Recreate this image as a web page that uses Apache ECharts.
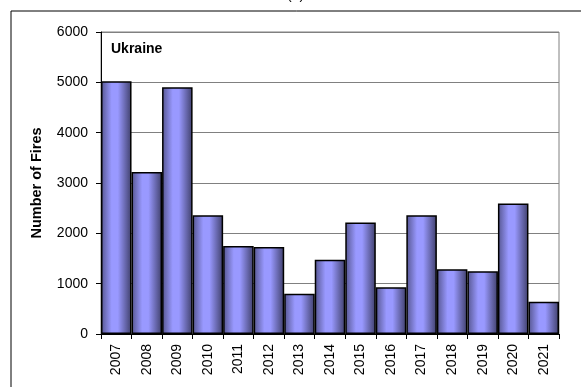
<!DOCTYPE html>
<html><head><meta charset="utf-8">
<script src="https://cdn.jsdelivr.net/npm/echarts@6/dist/echarts.min.js"></script>
<style>html,body{margin:0;padding:0;background:#fff;}#c{width:581px;height:387px;}</style>
</head><body><div id="c"></div>
<script>
const years = ['2007','2008','2009','2010','2011','2012','2013','2014','2015','2016','2017','2018','2019','2020','2021'];
const fires = [5020, 3220, 4900, 2360, 1750, 1730, 800, 1475, 2215, 930, 2360, 1285, 1245, 2595, 640];
const yTicks = [0, 1000, 2000, 3000, 4000, 5000, 6000];

const chart = echarts.init(document.getElementById('c'), null, {renderer: 'canvas'});
const font = 'Liberation Sans, Arial, sans-serif';
chart.setOption({
  animation: false,
  backgroundColor: '#fff',
  grid: {left: 101, right: 22, top: 32, bottom: 53, show: true, borderColor: '#808080', borderWidth: 1},
  graphic: [
    {type: 'rect', shape: {x: 11, y: 11, width: 600, height: 400}, style: {fill: 'none', stroke: '#000', lineWidth: 1}, z: -1},
    {type: 'text', left: 287, top: -12, style: {text: '(a)', font: '14px ' + font, fill: '#000'}},
    {type: 'text', left: 111, top: 42, style: {text: 'Ukraine', font: 'bold 14px ' + font, fill: '#000'}, z: 10}
  ],
  xAxis: {
    type: 'category', data: years,
    axisLine: {lineStyle: {color: '#000', width: 1}},
    axisTick: {show: true, alignWithLabel: false, length: 5, lineStyle: {color: '#000'}},
    axisLabel: {rotate: 90, color: '#000', fontSize: 14, fontFamily: font, margin: 10}
  },
  yAxis: {
    type: 'value', min: yTicks[0], max: yTicks[yTicks.length - 1], interval: 1000,
    name: 'Number of Fires', nameLocation: 'middle', nameGap: 57,
    nameTextStyle: {fontWeight: 'bold', fontSize: 14.5, fontFamily: font, color: '#000'},
    axisLine: {show: true, lineStyle: {color: '#000'}},
    axisTick: {show: true, length: 5, lineStyle: {color: '#000'}},
    axisLabel: {color: '#000', fontSize: 14, fontFamily: font, margin: 13, formatter: v => String(v)},
    splitLine: {lineStyle: {color: '#808080', width: 1}}
  },
  series: [{
    type: 'bar', data: fires, barCategoryGap: '0%',
    itemStyle: {
      color: new echarts.graphic.LinearGradient(0, 0, 1, 0, [
        {offset: 0, color: '#55558f'},
        {offset: 0.35, color: '#9999ff'},
        {offset: 0.55, color: '#9999ff'},
        {offset: 1, color: '#3f3f6a'}
      ]),
      borderColor: '#000', borderWidth: 1.5
    }
  }]
});
</script></body></html>
